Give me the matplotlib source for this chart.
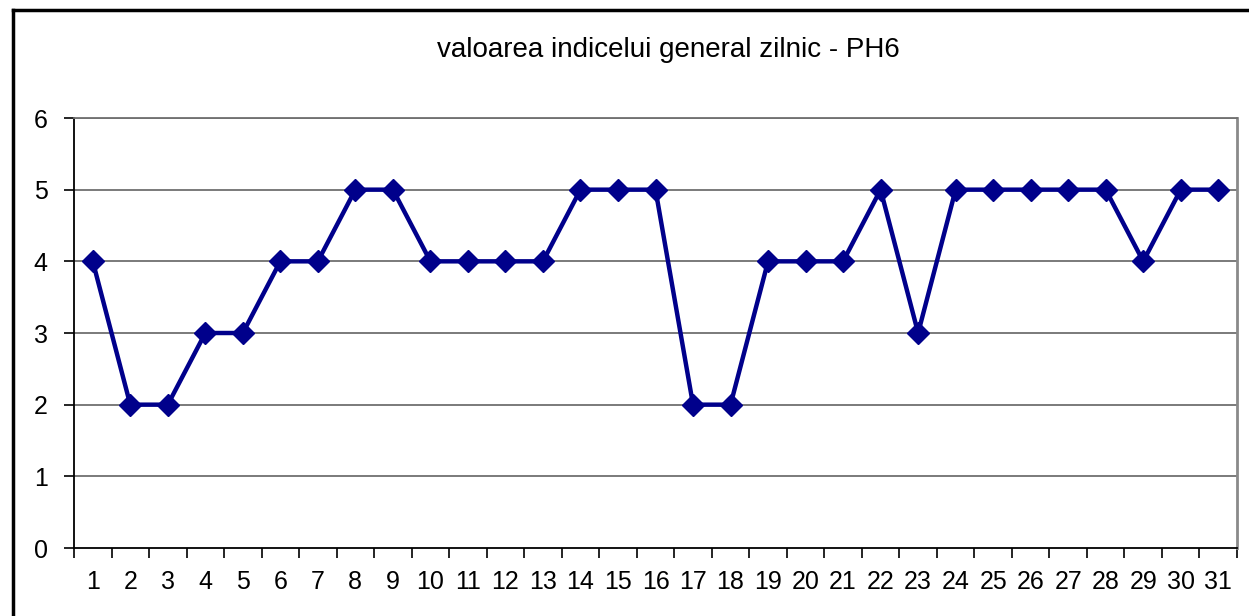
import matplotlib
matplotlib.use('Agg')
import matplotlib.pyplot as plt
from matplotlib.lines import Line2D

# Datos
zile = list(range(1, 32))
valori = [4, 2, 2, 3, 3, 4, 4, 5, 5, 4, 4, 4, 4, 5, 5, 5, 2, 2, 4, 4, 4, 5, 3, 5, 5, 5, 5, 5, 4, 5, 5]
titlu = 'valoarea indicelui general zilnic - PH6'
y_ticks = [0, 1, 2, 3, 4, 5, 6]

W, H = 1249, 616
plt.rcParams['font.family'] = ['Liberation Sans', 'DejaVu Sans']

fig = plt.figure(figsize=(W / 100, H / 100), dpi=100)
ax = fig.add_axes([74 / W, 1 - 548 / H, (1237 - 74) / W, (548 - 118) / H])

n = len(zile)
xs = list(range(n))
ax.plot(xs, valori, color='#00008B', linewidth=3.2, marker='D', markersize=11,
        markeredgecolor='#00008B', markerfacecolor='#00008B', zorder=3, clip_on=False)

ax.set_xlim(-0.5, n - 0.5)
ax.set_ylim(0, 6)
ax.set_yticks(y_ticks)
ax.set_yticklabels([str(v) for v in y_ticks], fontsize=18)
ax.set_xticks(xs)
ax.set_xticklabels([str(z) for z in zile], fontsize=18)
ax.tick_params(axis='x', length=0, pad=16)
ax.set_xticks([i - 0.5 for i in range(n + 1)], minor=True)
ax.tick_params(axis='x', which='minor', length=7, width=1.2, direction='out', color='black')
ax.tick_params(axis='y', length=7, width=1.2, direction='out', pad=12)

for y in y_ticks[1:]:
    ax.axhline(y, color='#707070', linewidth=1.3, zorder=1)

ax.spines['left'].set_color('black')
ax.spines['left'].set_linewidth(1.3)
ax.spines['bottom'].set_color('black')
ax.spines['bottom'].set_linewidth(1.3)
ax.spines['top'].set_color('#707070')
ax.spines['top'].set_linewidth(1.3)
ax.spines['right'].set_color('#8a8a8a')
ax.spines['right'].set_linewidth(2)

fig.text(668 / W, 1 - 50 / H, titlu, ha='center', va='center', fontsize=20)

# Chenarul exterior
fig.add_artist(Line2D([13 / W, 13 / W], [0, 1 - 10 / H], color='black', linewidth=2.5,
                      transform=fig.transFigure))
fig.add_artist(Line2D([13 / W, 1], [1 - 10 / H, 1 - 10 / H], color='black', linewidth=2.5,
                      transform=fig.transFigure))

fig.savefig('out.png', dpi=100)
